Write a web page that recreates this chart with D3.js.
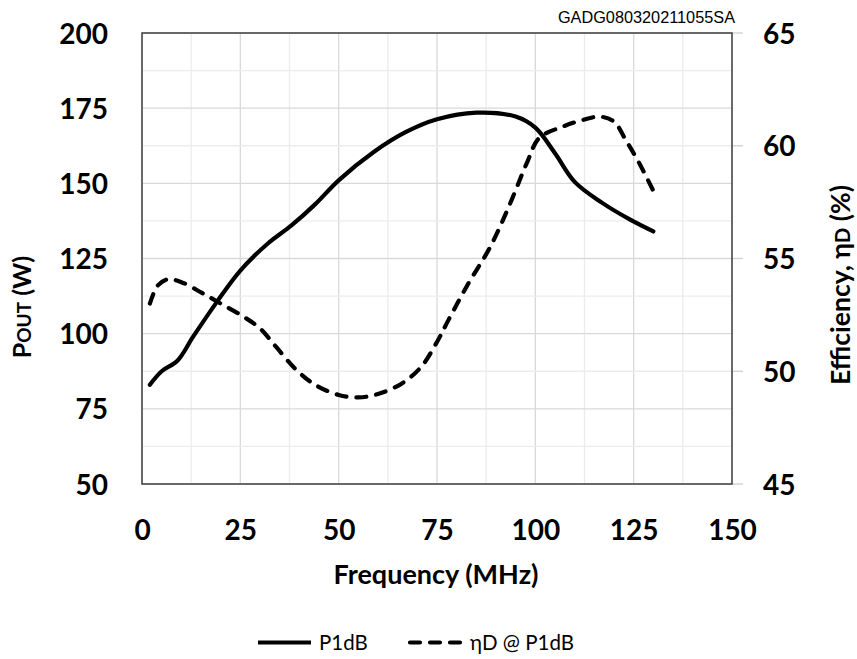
<!DOCTYPE html>
<html>
<head>
<meta charset="utf-8">
<script src="https://cdn.jsdelivr.net/npm/d3@7"></script>
<style>
  html, body { margin: 0; padding: 0; background: #fff; }
  svg { display: block; }
  text { font-family: Lato, "Open Sans", "Liberation Sans", sans-serif; fill: #000; }
</style>
</head>
<body>
<svg id="chart" width="857" height="659"></svg>
<script>
// ---- data ----
const xTicks = [0, 25, 50, 75, 100, 125, 150];
const yLeftTicks = [50, 75, 100, 125, 150, 175, 200];
const yRightTicks = [45, 50, 55, 60, 65];

const p1dbFreq = [2, 5, 9, 13, 19, 25, 32, 38, 44, 50, 59, 67, 75, 85, 95, 100, 105, 110, 117, 124, 130];
const p1dbPout = [83, 87.5, 91, 99, 110.5, 121, 130, 136, 143, 151, 160.5, 167, 171.3, 173.5, 172.2, 168.5, 160, 150.5, 143.5, 138, 134];

const effFreq = [2, 4, 6.5, 10, 15, 20, 26, 30, 34, 39, 44, 50, 55, 60, 66, 71, 75, 78, 83, 88.5, 93.5, 98, 101, 107, 112, 116.5, 120, 123, 126.5, 130];
const effVal = [53.0, 53.8, 54.08, 53.95, 53.5, 53.0, 52.4, 51.9, 51.1, 50.1, 49.4, 48.95, 48.84, 48.99, 49.45, 50.2, 51.3, 52.3, 53.9, 55.5, 57.4, 59.3, 60.35, 60.85, 61.14, 61.29, 61.07, 60.25, 59.2, 58.0];

const seriesNames = ["P1dB", "ηD @ P1dB"];
const docId = "GADG080320211055SA";

// ---- layout ----
const svg = d3.select("#chart");
const L = 142, T = 33, W = 590, H = 451;

const x = d3.scaleLinear().domain([0, 150]).range([L, L + W]);
const yL = d3.scaleLinear().domain([50, 200]).range([T + H, T]);
const yR = d3.scaleLinear().domain([45, 65]).range([T + H, T]);

// gridlines (minor every 12.5, major every 25)
const gx = d3.range(0, 150.01, 12.5);
const gy = d3.range(50, 200.01, 12.5);
const grid = svg.append("g");
grid.selectAll(".vg").data(gx).join("line")
  .attr("x1", d => x(d)).attr("x2", d => x(d))
  .attr("y1", T).attr("y2", T + H)
  .attr("stroke", d => d % 25 === 0 ? "#d9d9d9" : "#ececec")
  .attr("stroke-width", 1.3);
grid.selectAll(".hg").data(gy).join("line")
  .attr("x1", L).attr("x2", L + W)
  .attr("y1", d => yL(d)).attr("y2", d => yL(d))
  .attr("stroke", d => d % 25 === 0 ? "#d9d9d9" : "#ececec")
  .attr("stroke-width", 1.3);

// right axis outward tick marks
svg.append("g").selectAll("line").data(yRightTicks).join("line")
  .attr("x1", L + W).attr("x2", L + W + 11)
  .attr("y1", d => yR(d)).attr("y2", d => yR(d))
  .attr("stroke", "#d0d0d0").attr("stroke-width", 1.3);

// plot border
svg.append("rect").attr("x", L).attr("y", T).attr("width", W).attr("height", H)
  .attr("fill", "none").attr("stroke", "#404040").attr("stroke-width", 1.5);

// axes labels via d3 axes (domain/ticks hidden, labels styled)
const axB = svg.append("g").attr("transform", `translate(0,${T + H})`)
  .call(d3.axisBottom(x).tickValues(xTicks).tickSize(0).tickPadding(0));
axB.select(".domain").remove();
axB.selectAll("text").attr("dy", null).attr("y", 56)
  .style("font-size", "28px").style("font-weight", "700").attr("font-family", null);

const axL = svg.append("g").attr("transform", `translate(${L},0)`)
  .call(d3.axisLeft(yL).tickValues(yLeftTicks).tickSize(0).tickPadding(0));
axL.select(".domain").remove();
axL.selectAll("text").attr("x", -34).attr("dy", "0.36em")
  .style("font-size", "28px").style("font-weight", "700").attr("font-family", null);

const axR = svg.append("g").attr("transform", `translate(${L + W},0)`)
  .call(d3.axisRight(yR).tickValues(yRightTicks).tickSize(0).tickPadding(0));
axR.select(".domain").remove();
axR.selectAll("text").attr("x", 31).attr("dy", "0.36em")
  .style("font-size", "28px").style("font-weight", "700").attr("font-family", null);

// lines
const lineP = d3.line().x(d => x(d[0])).y(d => yL(d[1])).curve(d3.curveCatmullRom.alpha(0.5));
const lineE = d3.line().x(d => x(d[0])).y(d => yR(d[1])).curve(d3.curveCatmullRom.alpha(0.5));

svg.append("path").datum(d3.zip(effFreq, effVal)).attr("d", lineE)
  .attr("fill", "none").attr("stroke", "#000").attr("stroke-width", 4.2)
  .attr("stroke-dasharray", "10,10").attr("stroke-linecap", "round");
svg.append("path").datum(d3.zip(p1dbFreq, p1dbPout)).attr("d", lineP)
  .attr("fill", "none").attr("stroke", "#000").attr("stroke-width", 4.2)
  .attr("stroke-linecap", "round");

// axis titles
svg.append("text").attr("x", 436).attr("y", 584)
  .attr("text-anchor", "middle").style("font-size", "27px").style("font-weight", "700")
  .text("Frequency (MHz)");

const tl = svg.append("text").attr("transform", "translate(31,307) rotate(-90)")
  .attr("text-anchor", "middle").style("font-size", "25px").style("font-weight", "700");
tl.append("tspan").text("P");
tl.append("tspan").style("font-size", "19px").text("OUT");
tl.append("tspan").text(" (W)");

const tr = svg.append("text").attr("transform", "translate(850,285) rotate(-90)")
  .attr("text-anchor", "middle").style("font-size", "26.5px").style("font-weight", "700");
tr.append("tspan").text("Efficiency, η");
tr.append("tspan").style("font-size", "20px").text("D");
tr.append("tspan").text(" (%)");

// document id
svg.append("text").attr("x", 735).attr("y", 23).attr("text-anchor", "end")
  .style("font-family", "'Liberation Sans', Arial, sans-serif").style("font-size", "16.3px")
  .text(docId);

// legend
const leg = svg.append("g");
leg.append("line").attr("x1", 258).attr("x2", 311).attr("y1", 642.5).attr("y2", 642.5)
  .attr("stroke", "#000").attr("stroke-width", 4.2);
leg.append("text").attr("x", 319).attr("y", 649.5).style("font-size", "20.5px").text(seriesNames[0]);
leg.append("line").attr("x1", 410).attr("x2", 466).attr("y1", 642.5).attr("y2", 642.5)
  .attr("stroke", "#000").attr("stroke-width", 4.2)
  .attr("stroke-dasharray", "10,10").attr("stroke-linecap", "round");
leg.append("text").attr("x", 470).attr("y", 649.5).style("font-size", "20.5px").text(seriesNames[1]);
</script>
</body>
</html>
